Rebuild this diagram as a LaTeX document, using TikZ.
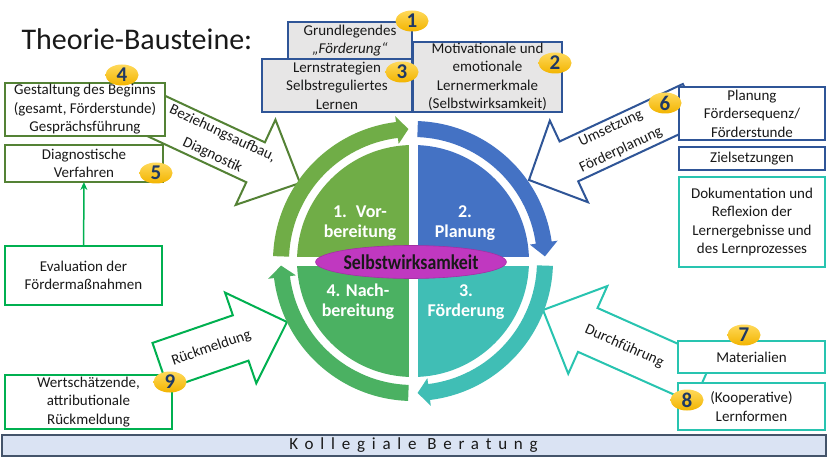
\documentclass[tikz,border=0pt]{standalone}
\usepackage{fontspec}
\setmainfont{Carlito}
\newfontfamily\spacedfont[LetterSpace=40]{Carlito}
\newfontfamily\condfont[FakeStretch=0.85]{Carlito}
\usepackage{tikz}
\usetikzlibrary{arrows.meta}
\usetikzlibrary{positioning}
\usetikzlibrary{shapes.geometric}

\definecolor{DarkBlue}{RGB}{47,85,151}
\definecolor{DarkGreen}{RGB}{84,130,53}
\definecolor{BrightGreen}{RGB}{0,176,80}
\definecolor{Teal}{RGB}{40,196,176}
\definecolor{PhaseA}{RGB}{112,173,71}
\definecolor{PhaseB}{RGB}{68,114,196}
\definecolor{PhaseC}{RGB}{64,190,181}
\definecolor{PhaseD}{RGB}{75,177,98}
\definecolor{BoxGray}{RGB}{231,230,230}
\definecolor{TextGray}{RGB}{25,25,25}
\definecolor{Navy}{RGB}{31,56,100}
\definecolor{BadgeLight}{RGB}{255,217,90}
\definecolor{BadgeGold}{RGB}{242,180,0}
\definecolor{Magenta}{RGB}{192,56,192}
\definecolor{BannerBlue}{RGB}{218,227,243}
\definecolor{Slate}{RGB}{68,84,106}

\begin{document}
\begin{tikzpicture}
[
	x = 1pt, y = -1pt,
	Box/.style		= {draw, line width = 2pt, fill = white, align = center, inner sep = 0pt, outer sep = 0pt, text = TextGray, font = \fontsize{15}{18.5}\selectfont},
	GrayBox/.style	= {Box, draw = DarkBlue, fill = BoxGray},
	Badge/.style	= {ellipse, top color = BadgeLight, bottom color = BadgeGold, inner sep = 0pt, minimum width = 33pt, minimum height = 21pt, text = Navy, font = \fontsize{21}{21}\bfseries\selectfont},
	Phase/.style	= {align = center, text = white, font = \fontsize{18}{20}\bfseries\selectfont},
	BigArrow/.style	= {line width = 2pt, fill = white, line join = miter},
	ArrowText/.style = {align = center, text = TextGray, font = \fontsize{15}{21}\selectfont},
]

	\fill [white] (0,0) rectangle (827,457);
	\useasboundingbox (0,0) rectangle (827,457);

	\node (title) [anchor = base west, text = TextGray, font = \fontsize{30}{30}\selectfont] at (18,50) {Theorie-Bausteine:};

	% block arrows (below the boxes)
	\begin{scope}[shift = {(300,183)}, rotate = -25]
		\draw [BigArrow, draw = DarkGreen] (0,0) -- (-49,47) -- (-49,22) -- (-175,22) -- (-175,-22) -- (-49,-22) -- (-49,-47) -- cycle;
		\node (bez) [ArrowText, transform shape] at (-91,0) {Beziehungsaufbau,\\[3pt]Diagnostik};
	\end{scope}
	\begin{scope}[shift = {(529,180)}, rotate = 205]
		\draw [BigArrow, draw = DarkBlue] (0,0) -- (-44,45) -- (-44,22) -- (-180,22) -- (-180,-22) -- (-44,-22) -- (-44,-45) -- cycle;
		\node (ums) [ArrowText, rotate = 25] at (-96,0) {Umsetzung\\[3pt]Förderplanung};
	\end{scope}
	\begin{scope}[shift = {(543,310)}, rotate = 156]
		\draw [BigArrow, draw = Teal] (0,0) -- (-49,48) -- (-49,24) -- (-175,24) -- (-175,-24) -- (-49,-24) -- (-49,-48) -- cycle;
		\node (durch) [ArrowText, rotate = -24] at (-89,0) {Durchführung};
	\end{scope}
	\begin{scope}[shift = {(287,322)}, rotate = 19]
		\draw [BigArrow, draw = BrightGreen] (0,0) -- (-49,48) -- (-49,24) -- (-134,24) -- (-134,-24) -- (-49,-24) -- (-49,-48) -- cycle;
		\node (rueck) [ArrowText, transform shape] at (-80,0) {Rückmeldung};
	\end{scope}

	% cycle
	\begin{scope}[shift = {(413,261)}, y = 1pt]
		\fill [PhaseA] (178:124) arc [start angle = 178, end angle = 97, radius = 124] -- (97:118) -- (92:132) -- (97:146) -- (97:140) arc [start angle = 97, end angle = 178, radius = 140] -- cycle;
		\fill [PhaseB] (88:124) arc [start angle = 88, end angle = 8, radius = 124] -- (8:118) -- (2:132) -- (8:146) -- (8:140) arc [start angle = 8, end angle = 88, radius = 140] -- cycle;
		\fill [PhaseC] (-2:124) arc [start angle = -2, end angle = -83, radius = 124] -- (-83:118) -- (-88:132) -- (-83:146) -- (-83:140) arc [start angle = -83, end angle = -2, radius = 140] -- cycle;
		\fill [PhaseD] (-92:124) arc [start angle = -92, end angle = -173, radius = 124] -- (-173:118) -- (-178:132) -- (-173:146) -- (-173:140) arc [start angle = -173, end angle = -92, radius = 140] -- cycle;
		%
		\fill [PhaseA] (0,0) -- (180:116) arc [start angle = 180, end angle = 90, radius = 116] -- cycle;
		\fill [PhaseB] (0,0) -- (90:116) arc [start angle = 90, end angle = 0, radius = 116] -- cycle;
		\fill [PhaseC] (0,0) -- (0:116) arc [start angle = 0, end angle = -90, radius = 116] -- cycle;
		\fill [PhaseD] (0,0) -- (-90:116) arc [start angle = -90, end angle = -180, radius = 116] -- cycle;
		\draw [white, line width = 9pt] (-120,0) -- (120,0) (0,-120) -- (0,120);
	\end{scope}

	\node (vor)  [Phase] at (360,223) {1.\enspace Vor-\\bereitung};
	\node (plg)  [Phase] at (465,223) {2.\\Planung};
	\node (nach) [Phase] at (358,302) {4. Nach-\\bereitung};
	\node (foe)  [Phase] at (466,302) {3.\\Förderung};
	\node (selbst) [ellipse, fill = Magenta, draw = Magenta!85!black, line width = 0.6pt, minimum width = 156pt, minimum height = 33pt, inner sep = 0pt, text = TextGray, font = \condfont\bfseries\fontsize{21}{21}\selectfont] at (411,262) {Selbstwirksamkeit};

	% top boxes
	\node (grund) [GrayBox, minimum width = 124pt, minimum height = 37pt] at (350,40.5) {Grundlegendes\\\textit{„Förderung“}};
	\node (strat) [GrayBox, minimum width = 150pt, minimum height = 53pt] at (337,85.5) {Lernstrategien\\Selbstreguliertes\\Lernen};
	\node (motiv) [GrayBox, minimum width = 149pt, minimum height = 70pt] at (487.5,77) {Motivationale und\\emotionale\\Lernermerkmale\\(Selbstwirksamkeit)};

	% left boxes
	\node (beginn) [Box, draw = DarkGreen, minimum width = 160pt, minimum height = 53pt] at (85,109.5) {Gestaltung des Beginns\\(gesamt, Förderstunde)\\Gesprächsführung};
	\node (diag) [Box, draw = DarkGreen, minimum width = 158pt, minimum height = 37pt, below = 9pt of beginn.south west, anchor = north west] {Diagnostische\\Verfahren};
	\node (eval) [Box, draw = BrightGreen, minimum width = 157pt, minimum height = 59pt] at (83.5,275.5) {Evaluation der\\Fördermaßnahmen};
	\node (wert) [Box, draw = BrightGreen, minimum width = 167pt, minimum height = 54pt] at (88.5,402) {Wertschätzende,\\attributionale\\Rückmeldung};

	\draw [-{Stealth[length = 8pt, width = 7pt]}, line width = 1.5pt, BrightGreen] (eval) -- (diag);

	% right boxes
	\node (plan) [Box, draw = DarkBlue, minimum width = 146pt, minimum height = 53pt] at (752,113.5) {Planung\\Fördersequenz/\\Förderstunde};
	\node (ziel) [Box, draw = DarkBlue, minimum width = 146pt, minimum height = 23pt, below = 7pt of plan] {Zielsetzungen};
	\node (doku) [Box, draw = Teal, minimum width = 146pt, minimum height = 90pt, below = 7pt of ziel] {Dokumentation und\\Reflexion der\\Lernergebnisse und\\des Lernprozesses};
	\node (mat)  [Box, draw = Teal, minimum width = 147pt, minimum height = 32pt] at (751.5,357) {Materialien};
	\node (koop) [Box, draw = Teal, minimum width = 147pt, minimum height = 47pt, below = 10pt of mat] {(Kooperative)\\Lernformen};

	% number badges
	\node (n1) [Badge] at (412,21)  {1};
	\node (n2) [Badge] at (555,63)  {2};
	\node (n3) [Badge] at (402,72)  {3};
	\node (n4) [Badge] at (122,75)  {4};
	\node (n5) [Badge] at (156,173) {5};
	\node (n6) [Badge] at (665,103) {6};
	\node (n7) [Badge] at (744,335) {7};
	\node (n8) [Badge] at (687,400) {8};
	\node (n9) [Badge] at (170,382) {9};

	% banner
	\node (koll) [draw = Slate, line width = 2pt, fill = BannerBlue, minimum width = 824pt, minimum height = 21pt, inner sep = 0pt, text = TextGray, font = \spacedfont\fontsize{17}{17}\selectfont] at (413.5,445) {Kollegiale Beratung};

\end{tikzpicture}
\end{document}
